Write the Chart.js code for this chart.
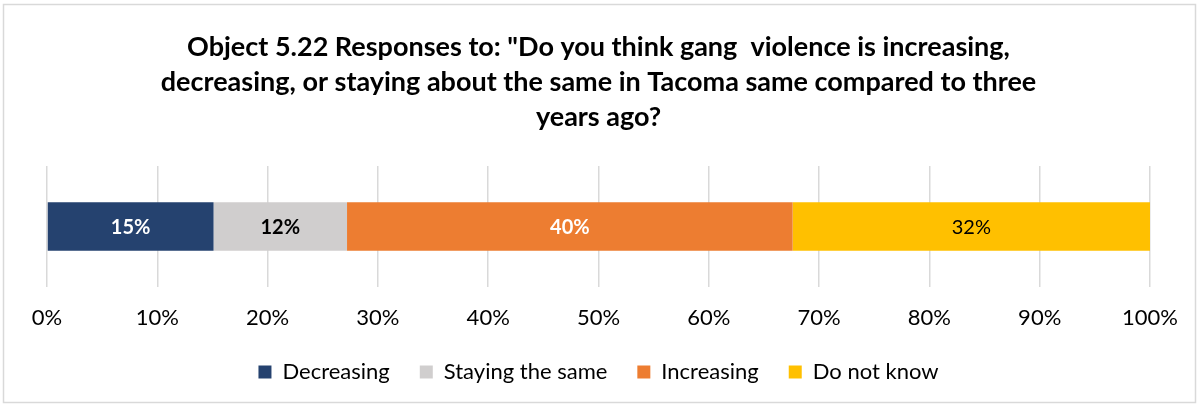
<!DOCTYPE html>
<html>
<head>
<meta charset="utf-8">
<script src="https://cdn.jsdelivr.net/npm/chart.js@4/dist/chart.umd.min.js"></script>
<style>
  html, body { margin: 0; padding: 0; background: #fff; }
  #wrap { position: relative; width: 1199px; height: 406px; }
</style>
</head>
<body>
<div id="wrap"><canvas id="gangChart" width="1199" height="406"></canvas></div>
<script>
  // survey answers, share of respondents (%)
  const categories = ['Tacoma'];
  const decreasing = [15.1];
  const stayingSame = [12.1];
  const increasing = [40.4];
  const doNotKnow = [32.4];
  const tickLabels = ['0%', '10%', '20%', '30%', '40%', '50%', '60%', '70%', '80%', '90%', '100%'];

  const FONT = "Lato, 'Open Sans', sans-serif";

  // thin grey frame around the whole chart
  const framePlugin = {
    id: 'frame',
    beforeDraw: (chart) => {
      const ctx = chart.ctx;
      ctx.save();
      ctx.strokeStyle = '#d9d9d9';
      ctx.lineWidth = 1.5;
      ctx.strokeRect(3.5, 4.5, chart.width - 7, chart.height - 8);
      ctx.restore();
    }
  };

  // value labels in the middle of each segment
  const segmentLabels = {
    id: 'segmentLabels',
    afterDatasetsDraw: (chart) => {
      const ctx = chart.ctx;
      ctx.save();
      ctx.textAlign = 'center';
      ctx.textBaseline = 'middle';
      chart.data.datasets.forEach((ds, i) => {
        const meta = chart.getDatasetMeta(i);
        meta.data.forEach((bar, j) => {
          const x = (bar.x + bar.base) / 2;
          ctx.fillStyle = ds.labelColor;
          ctx.font = `${ds.labelWeight} 20px ${FONT}`;
          ctx.fillText(Math.round(ds.data[j]) + '%', x, bar.y + 1);
        });
      });
      ctx.restore();
    }
  };

  new Chart(document.getElementById('gangChart'), {
    type: 'bar',
    data: {
      labels: categories,
      datasets: [
        { label: 'Decreasing', data: decreasing, backgroundColor: '#25426f', labelColor: '#ffffff', labelWeight: 'bold' },
        { label: 'Staying the same', data: stayingSame, backgroundColor: '#d0cece', labelColor: '#000000', labelWeight: 'bold' },
        { label: 'Increasing', data: increasing, backgroundColor: '#ed7d31', labelColor: '#ffffff', labelWeight: 'bold' },
        { label: 'Do not know', data: doNotKnow, backgroundColor: '#ffc000', labelColor: '#000000', labelWeight: 'normal' },
      ],
    },
    options: {
      indexAxis: 'y',
      responsive: false,
      animation: false,
      barPercentage: 0.4025,
      categoryPercentage: 1,
      layout: { padding: { left: 47, right: 49, top: 30, bottom: 13 } },
      scales: {
        x: {
          stacked: true,
          min: 0,
          max: 100,
          border: { display: false },
          grid: { color: '#d9d9d9', lineWidth: 1.5, drawTicks: false },
          ticks: {
            stepSize: 10,
            padding: 18,
            color: '#000',
            font: { family: FONT, size: 22 },
            callback: (v, i) => tickLabels[i],
          },
          // keep the axis band tight so the plot reaches down to the labels
          afterFit: (scale) => { scale.height = 44; },
        },
        y: { stacked: true, display: false },
      },
      plugins: {
        title: {
          display: true,
          text: [
            'Object 5.22 Responses to: "Do you think gang  violence is increasing,',
            'decreasing, or staying about the same in Tacoma same compared to three',
            'years ago?',
          ],
          color: '#000',
          font: { family: FONT, size: 27, weight: 'bold', lineHeight: 1.3 },
          padding: { top: 0, bottom: 30.7 },
        },
        legend: {
          position: 'bottom',
          labels: {
            color: '#000',
            boxWidth: 13,
            boxHeight: 13,
            padding: 30,
            font: { family: FONT, size: 22 },
          },
        },
        tooltip: { enabled: false },
      },
    },
    plugins: [framePlugin, segmentLabels],
  });
</script>
</body>
</html>
